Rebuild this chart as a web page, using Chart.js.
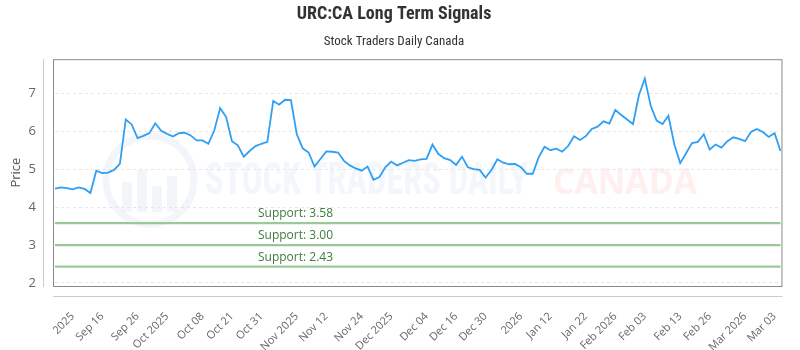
<!DOCTYPE html>
<html>
<head>
<meta charset="utf-8">
<script src="https://cdn.jsdelivr.net/npm/chart.js@4/dist/chart.umd.min.js"></script>
<style>
  html, body { margin: 0; padding: 0; background: #fff; }
  #wrap { width: 800px; height: 350px; }
</style>
</head>
<body>
<div id="wrap"><canvas id="chartSignals"></canvas></div>
<script>
// URC:CA daily closes
const prices = [
  4.49, 4.52, 4.50, 4.47, 4.52, 4.48, 4.37, 4.96, 4.90, 4.91, 4.98, 5.14, 6.31, 6.18, 5.82, 5.88,
  5.95, 6.21, 6.01, 5.93, 5.86, 5.95, 5.96, 5.89, 5.76, 5.76, 5.67, 6.02, 6.61, 6.38, 5.74, 5.63,
  5.33, 5.48, 5.61, 5.67, 5.72, 6.80, 6.70, 6.83, 6.82, 5.92, 5.55, 5.44, 5.07, 5.27, 5.47, 5.46,
  5.44, 5.22, 5.10, 5.02, 4.96, 5.07, 4.72, 4.79, 5.05, 5.20, 5.10, 5.17, 5.24, 5.22, 5.26, 5.27,
  5.65, 5.40, 5.29, 5.24, 5.11, 5.33, 5.05, 5.00, 4.98, 4.78, 4.98, 5.26, 5.17, 5.13, 5.14, 5.05,
  4.88, 4.88, 5.31, 5.59, 5.50, 5.54, 5.46, 5.61, 5.87, 5.77, 5.87, 6.06, 6.12, 6.26, 6.20, 6.56,
  6.43, 6.31, 6.19, 6.95, 7.39, 6.67, 6.28, 6.19, 6.41, 5.66, 5.16, 5.42, 5.69, 5.72, 5.92, 5.52,
  5.65, 5.57, 5.74, 5.84, 5.80, 5.74, 5.98, 6.06, 5.98, 5.85, 5.95, 5.48
];
const tickLabels = ['2025', 'Sep 16', 'Sep 26', 'Oct 2025', 'Oct 08', 'Oct 21', 'Oct 31', 'Nov 2025', 'Nov 12', 'Nov 24', 'Dec 2025',
  'Dec 04', 'Dec 16', 'Dec 30', '2026', 'Jan 12', 'Jan 22', 'Feb 2026', 'Feb 03', 'Feb 13', 'Feb 26', 'Mar 2026', 'Mar 03'];
const tickIndex = [3, 8, 14, 19, 25, 30, 35, 41, 46, 52, 57, 63, 68, 73, 79, 84, 90, 95, 100, 106, 111, 117, 122];
const supports = [3.58, 3.00, 2.43];

const labels = prices.map((p, i) => i);
const FONT = "'Open Sans', 'DejaVu Sans', sans-serif";
const TITLE_FONT = "'Liberation Sans Narrow', 'Roboto Condensed', Roboto, sans-serif";

// plot frame, offset axis lines, watermark and support labels
const decorPlugin = {
  id: 'decor',
  beforeDatasetsDraw(chart) {
    const { ctx } = chart;
    ctx.save();
    // faint watermark
    ctx.strokeStyle = 'rgba(222,230,243,0.4)';
    ctx.lineWidth = 7;
    ctx.beginPath(); ctx.arc(150, 180, 44, 0, Math.PI * 2); ctx.stroke();
    ctx.fillStyle = 'rgba(222,230,243,0.4)';
    [[122, 30], [137, 42], [152, 26], [167, 36]].forEach(([x, h]) => ctx.fillRect(x, 212 - h, 10, h));
    ctx.font = "bold 44px " + TITLE_FONT;
    ctx.textBaseline = 'alphabetic';
    let txt = 'STOCK TRADERS DAILY', w = ctx.measureText(txt).width;
    ctx.save(); ctx.translate(205, 194); ctx.scale(323 / w, 1);
    ctx.fillStyle = 'rgba(228,235,245,0.45)'; ctx.fillText(txt, 0, 0); ctx.restore();
    ctx.font = "bold 35px " + FONT;
    txt = 'CANADA'; w = ctx.measureText(txt).width;
    ctx.save(); ctx.translate(553, 194); ctx.scale(144 / w, 1);
    ctx.fillStyle = 'rgba(255,225,225,0.55)'; ctx.fillText(txt, 0, 0); ctx.restore();
    ctx.restore();
  },
  afterDraw(chart) {
    const { ctx, chartArea: a, scales } = chart;
    ctx.save();
    ctx.strokeStyle = '#8a8a8a';
    ctx.lineWidth = 1;
    ctx.strokeRect(a.left - 1.5, a.top + 0.5, a.right - a.left + 3, a.bottom - a.top);
    ctx.strokeStyle = '#cccccc';
    ctx.beginPath();
    ctx.moveTo(43.5, a.top); ctx.lineTo(43.5, a.bottom + 1);
    ctx.moveTo(a.left - 2, a.bottom + 10.5); ctx.lineTo(a.right + 2, a.bottom + 10.5);
    ctx.stroke();
    ctx.font = "12px " + FONT;
    ctx.fillStyle = '#3b7d3b';
    ctx.textBaseline = 'middle';
    supports.forEach(v => {
      ctx.fillText('Support: ' + v.toFixed(2), 258, scales.y.getPixelForValue(v) - 9);
    });
    ctx.restore();
  }
};

const supportSets = supports.map(v => ({
  data: prices.map(() => v),
  borderColor: 'rgba(130,188,130,0.8)',
  borderWidth: 2.2,
  pointRadius: 0,
  fill: false,
  order: 2
}));

new Chart(document.getElementById('chartSignals'), {
  type: 'line',
  data: {
    labels,
    datasets: [{ data: prices, borderColor: '#2f9ff3', borderWidth: 1.8, pointRadius: 0, tension: 0, fill: false, order: 1 }, ...supportSets]
  },
  options: {
    responsive: true,
    maintainAspectRatio: false,
    animation: false,
    layout: { padding: { left: 0, right: 12, top: 0, bottom: 0 } },
    plugins: {
      legend: { display: false },
      tooltip: { enabled: false },
      title: { display: true, text: 'URC:CA Long Term Signals', color: '#333', font: { family: TITLE_FONT, size: 18, weight: 'bold' }, padding: { top: 4, bottom: 6 } },
      subtitle: { display: true, text: 'Stock Traders Daily Canada', color: '#333', font: { family: TITLE_FONT, size: 13 }, padding: { top: 2, bottom: 10 } }
    },
    scales: {
      x: {
        type: 'category',
        offset: false,
        grid: { display: false },
        border: { display: false },
        afterFit: s => { s.height = 64; },
        ticks: {
          autoSkip: false, minRotation: 45, maxRotation: 45, padding: 16,
          color: '#666', font: { family: FONT, size: 11 },
          callback: (v, i) => { const k = tickIndex.indexOf(i); return k >= 0 ? tickLabels[k] : null; }
        }
      },
      y: {
        min: 1.92, max: 7.9,
        border: { display: false, dash: [3, 3] },
        grid: { color: '#e6e6e6', drawTicks: false },
        afterFit: s => { s.width = 55; },
        title: { display: true, text: 'Price', color: '#555', font: { family: FONT, size: 13 }, padding: { top: 8 } },
        ticks: { stepSize: 1, includeBounds: false, padding: 19, color: '#666', font: { family: FONT, size: 13 } }
      }
    }
  },
  plugins: [decorPlugin]
});
</script>
</body>
</html>
